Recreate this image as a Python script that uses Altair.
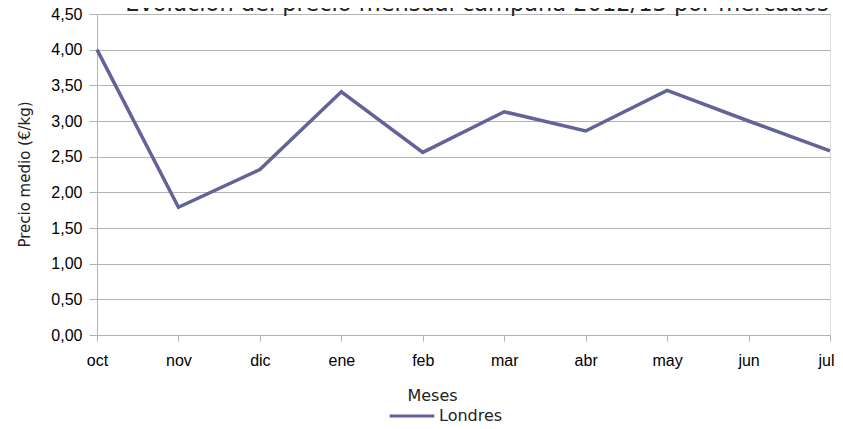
import altair as alt
import pandas as pd

months = ["oct", "nov", "dic", "ene", "feb", "mar", "abr", "may", "jun", "jul"]
prices = [4.00, 1.79, 2.32, 3.41, 2.56, 3.13, 2.86, 3.43, 3.00, 2.58]
series_name = "Londres"
y_ticks = [0, 0.5, 1, 1.5, 2, 2.5, 3, 3.5, 4, 4.5]
title_text = "Evolución del precio mensual campaña 2012/13 por mercados"
x_title = "Meses"
y_title = "Precio medio (€/kg)"

df = pd.DataFrame({"mes": months, "precio": prices, "serie": [series_name] * len(months)})

LINE = "#63639a"
GRID = "#b3b3b3"
GOTHIC = "DejaVu Sans"
ARIAL = "Liberation Sans"

x_enc = alt.X(
    "mes:N",
    sort=months,
    scale=alt.Scale(type="point", padding=0),
    axis=alt.Axis(
        title=x_title,
        titleFont=GOTHIC,
        titleFontSize=16,
        titleFontWeight="normal",
        titleColor="#222222",
        titleX=335,
        titleY=65,
        titleBaseline="alphabetic",
        titleAlign="center",
        labelFont=ARIAL,
        labelFontSize=16,
        labelColor="#000000",
        labelAngle=0,
        labelPadding=11,
        labelOffset={"condition": {"test": "datum.value === 'jul'", "value": -4}, "value": 0},
        tickSize=6,
        tickColor=GRID,
        domainColor=GRID,
        grid=False,
    ),
)

y_enc = alt.Y(
    "precio:Q",
    scale=alt.Scale(domain=[0, 4.5], nice=False),
    axis=alt.Axis(
        title=y_title,
        values=y_ticks,
        labelExpr="replace(format(datum.value, '.2f'), '.', ',')",
        titleFont=GOTHIC,
        titleFontSize=15,
        titleFontWeight="normal",
        titleColor="#222222",
        titleX=-73,
        titleY=160,
        titleAlign="center",
        titleBaseline="middle",
        titleAngle=270,
        labelFont=ARIAL,
        labelFontSize=16,
        labelColor="#000000",
        labelPadding=7,
        tickSize=8,
        tickColor=GRID,
        domainColor=GRID,
        gridColor=GRID,
        gridWidth=1,
    ),
)

line = alt.Chart(df).mark_line(strokeWidth=3.5).encode(
    x=x_enc,
    y=y_enc,
    color=alt.Color(
        "serie:N",
        scale=alt.Scale(range=[LINE]),
        legend=alt.Legend(
            orient="none",
            legendX=291,
            legendY=378,
            title=None,
            symbolType="stroke",
            symbolStrokeWidth=3,
            symbolSize=2000,
            labelFont=GOTHIC,
            labelFontSize=16,
            labelColor="#222222",
            labelOffset=3,
        ),
    ),
)

title = alt.Chart(pd.DataFrame({"t": [title_text]})).mark_text(
    font=GOTHIC, fontSize=22.5, color="#222222", align="center", baseline="alphabetic"
).encode(text="t:N", x=alt.value(380), y=alt.value(-3))

chart = (
    alt.layer(line, title)
    .properties(
        width=733,
        height=321,
        autosize=alt.AutoSizeParams(type="none"),
        padding={"left": 89, "top": 6, "right": 5, "bottom": 86},
    )
    .configure_view(stroke=GRID, strokeWidth=1)
    .configure(background="white")
)

chart.save("out.html", embed_options={"renderer": "svg", "actions": False})
